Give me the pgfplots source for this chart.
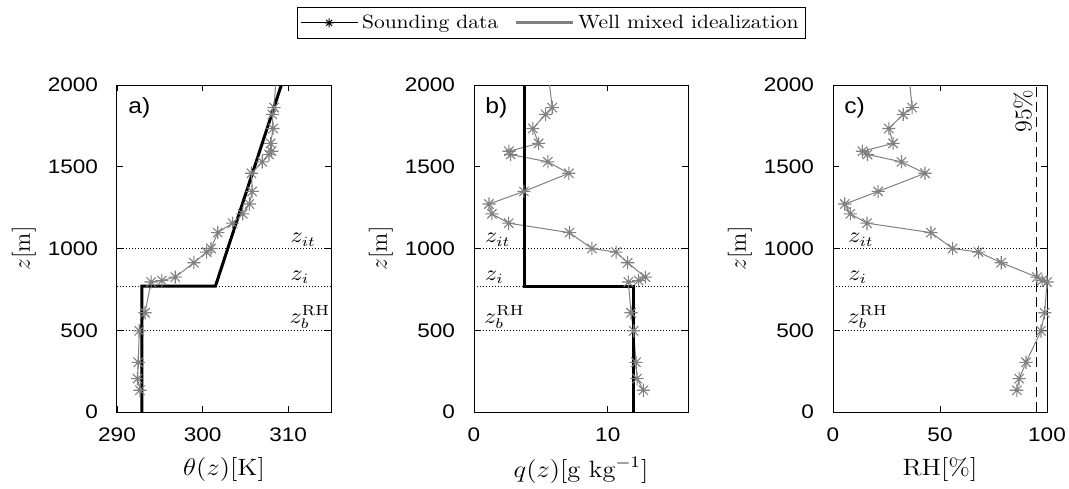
\documentclass[border=0pt]{standalone}
\usepackage{fontspec}
\usepackage{graphicx}
\usepackage{pgfplots}
\pgfplotsset{compat=1.18}
\newfontfamily\tickfont[FakeStretch=1.15]{Liberation Sans}
\newfontfamily\panfont[FakeStretch=1.12]{Liberation Sans}
\definecolor{sgray}{gray}{0.5}
\pgfdeclareplotmark{mstar}{%
 \pgfpathmoveto{\pgfqpoint{-\pgfplotmarksize}{0pt}}\pgfpathlineto{\pgfqpoint{\pgfplotmarksize}{0pt}}%
 \pgfpathmoveto{\pgfqpoint{0pt}{-\pgfplotmarksize}}\pgfpathlineto{\pgfqpoint{0pt}{\pgfplotmarksize}}%
 \pgfpathmoveto{\pgfqpoint{-0.707\pgfplotmarksize}{-0.707\pgfplotmarksize}}\pgfpathlineto{\pgfqpoint{0.707\pgfplotmarksize}{0.707\pgfplotmarksize}}%
 \pgfpathmoveto{\pgfqpoint{-0.707\pgfplotmarksize}{0.707\pgfplotmarksize}}\pgfpathlineto{\pgfqpoint{0.707\pgfplotmarksize}{-0.707\pgfplotmarksize}}%
 \pgfusepathqstroke}
\pgfplotsset{
 panel/.style={
  scale only axis, width=107pt, height=163.5pt,
  ymin=0, ymax=2000, ytick={0,500,1000,1500,2000},
  tick align=inside, xtick pos=both, ytick pos=both,
  major tick length=3pt,
  tick style={black, line width=0.4pt},
  axis line style={black, line width=0.5pt},
  ticklabel style={font=\fontsize{9.8}{11}\tickfont},
  /pgf/number format/assume math mode=true,
  /pgf/number format/set thousands separator={},
  scaled ticks=false,
  yticklabel style={xshift=-6pt},
  xticklabel style={yshift=-4.5pt},
  label style={font=\fontsize{11.8}{13}\selectfont},
  xlabel style={at={(axis description cs:0.5,-0.177)}, anchor=center},
  ylabel style={at={(axis description cs:-0.435,0.5)}, anchor=center},
  ylabel={$z[\mathrm{m}]$},
  clip=true,
 },
 data/.style={sgray, line width=0.5pt, mark=mstar, mark size=3.3pt, mark options={solid, line width=0.55pt}, forget plot},
 wm/.style={black, line width=1.5pt, forget plot},
 dl/.style={black, line width=0.45pt, dash pattern=on 0.5pt off 1pt, forget plot},
}
\pgfplotstableread{
z th q rh
133 292.68 12.66 85.9
204 292.40 12.19 87.0
304 292.48 12.11 90.2
496 292.60 11.94 97.2
607 293.27 11.74 98.9
795 293.98 11.54 100.0
804 295.24 12.31 97.7
825 296.81 12.81 95.3
913 298.98 11.49 78.6
978 300.47 10.62 68.0
1000 300.98 8.81 55.9
1097 301.77 7.14 45.8
1155 303.50 2.59 15.9
1212 304.69 1.34 8.1
1272 305.47 1.12 5.5
1349 305.79 3.73 21.1
1460 305.71 7.09 43.0
1530 306.97 5.52 32.0
1575 307.76 2.74 16.1
1595 308.07 2.61 13.75
1643 307.95 4.83 28.1
1734 308.23 4.40 26.1
1820 308.15 5.35 32.8
1862 308.35 5.85 37.0
2100 308.65 5.50 35.1
}\sounding
\begin{document}
\begin{tikzpicture}
\useasboundingbox (0,0) rectangle (534.5pt,244pt);
% ---------- panel a
\begin{axis}[panel, at={(58.5pt,38pt)}, anchor=south west,
  xmin=290, xmax=315, xtick={290,300,310},
  xlabel={\scalebox{1.12}[1]{$\theta(z)[\mathrm{K}]$}},
  legend style={at={(axis description cs:2.03,1.19)}, anchor=center,
    legend columns=2, draw=black, line width=0.5pt, inner sep=1.5pt,
    font=\fontsize{9.6}{11.5}\selectfont,
    /tikz/every even column/.append style={column sep=6pt}},
  legend image code/.code={\draw[mark repeat=2,mark phase=2,#1] plot coordinates {(0cm,0cm)(0.5cm,0cm)(1cm,0cm)};}]
\addplot[dl] coordinates {(290,1000)(315,1000)};
\addplot[dl] coordinates {(290,770)(315,770)};
\addplot[dl] coordinates {(290,500)(315,500)};
\addplot[data] table[x=th,y=z] {\sounding};
\addplot[wm] coordinates {(292.9,0)(292.9,770)(301.5,770)(309.2,2000)};
\node[anchor=south west, inner sep=1pt, font=\fontsize{10.5}{12}\selectfont] at (axis cs:310.0,1000) {\scalebox{1.1}[1]{$z_{it}$}};
\node[anchor=south west, inner sep=1pt, font=\fontsize{10.5}{12}\selectfont] at (axis cs:310.0,770) {\scalebox{1.1}[1]{$z_{i}$}};
\node[anchor=south west, inner sep=0.5pt, font=\fontsize{10.5}{12}\selectfont] at (axis cs:310.0,500) {\scalebox{1.1}[1]{$z_{b}^{\mathrm{RH}}$}};
\node[anchor=north west, inner sep=0pt, xshift=5.5pt, yshift=-6pt, font=\fontsize{11}{12}\panfont] at (rel axis cs:0,1) {a)};
\addlegendimage{black, line width=0.5pt, mark=mstar, mark size=2.2pt, mark options={solid}}
\addlegendentry{\scalebox{1.12}[1]{Sounding data}}
\addlegendimage{sgray, line width=1.5pt}
\addlegendentry{\scalebox{1.12}[1]{Well mixed idealization}}
\end{axis}
% ---------- panel b
\begin{axis}[panel, at={(237pt,38pt)}, anchor=south west,
  xmin=0, xmax=16, xtick={0,10},
  xlabel={\scalebox{1.12}[1]{$q(z)[\mathrm{g\ kg}^{-1}]$}}]
\addplot[dl] coordinates {(0,1000)(16,1000)};
\addplot[dl] coordinates {(0,770)(16,770)};
\addplot[dl] coordinates {(0,500)(16,500)};
\addplot[data] table[x=q,y=z] {\sounding};
\addplot[wm] coordinates {(11.9,0)(11.9,770)(3.78,770)(3.78,2000)};
\node[anchor=south west, inner sep=1pt, font=\fontsize{10.5}{12}\selectfont] at (axis cs:0.65,1000) {\scalebox{1.1}[1]{$z_{it}$}};
\node[anchor=south west, inner sep=1pt, font=\fontsize{10.5}{12}\selectfont] at (axis cs:0.65,770) {\scalebox{1.1}[1]{$z_{i}$}};
\node[anchor=south west, inner sep=0.5pt, font=\fontsize{10.5}{12}\selectfont] at (axis cs:0.65,500) {\scalebox{1.1}[1]{$z_{b}^{\mathrm{RH}}$}};
\node[anchor=north west, inner sep=0pt, xshift=5.5pt, yshift=-6pt, font=\fontsize{11}{12}\panfont] at (rel axis cs:0,1) {b)};
\end{axis}
% ---------- panel c
\begin{axis}[panel, at={(416.5pt,38pt)}, anchor=south west,
  xmin=0, xmax=100, xtick={0,50,100},
  xlabel={\scalebox{1.12}[1]{$\mathrm{RH}[\%]$}}]
\addplot[dl] coordinates {(0,1000)(100,1000)};
\addplot[dl] coordinates {(0,770)(100,770)};
\addplot[dl] coordinates {(0,500)(100,500)};
\addplot[black, line width=0.5pt, dash pattern=on 5pt off 2.5pt, forget plot] coordinates {(95,0)(95,2000)};
\addplot[data] table[x=rh,y=z] {\sounding};
\node[anchor=south west, inner sep=1pt, font=\fontsize{10.5}{12}\selectfont] at (axis cs:6.1,1000) {\scalebox{1.1}[1]{$z_{it}$}};
\node[anchor=south west, inner sep=1pt, font=\fontsize{10.5}{12}\selectfont] at (axis cs:6.1,770) {\scalebox{1.1}[1]{$z_{i}$}};
\node[anchor=south west, inner sep=0.5pt, font=\fontsize{10.5}{12}\selectfont] at (axis cs:6.1,500) {\scalebox{1.1}[1]{$z_{b}^{\mathrm{RH}}$}};
\node[rotate=90, anchor=center, inner sep=0pt, font=\fontsize{12}{13}\selectfont] at (axis cs:88.8,1841) {$95\%$};
\node[anchor=north west, inner sep=0pt, xshift=5.5pt, yshift=-6pt, font=\fontsize{11}{12}\panfont] at (rel axis cs:0,1) {c)};
\end{axis}
\end{tikzpicture}
\end{document}
